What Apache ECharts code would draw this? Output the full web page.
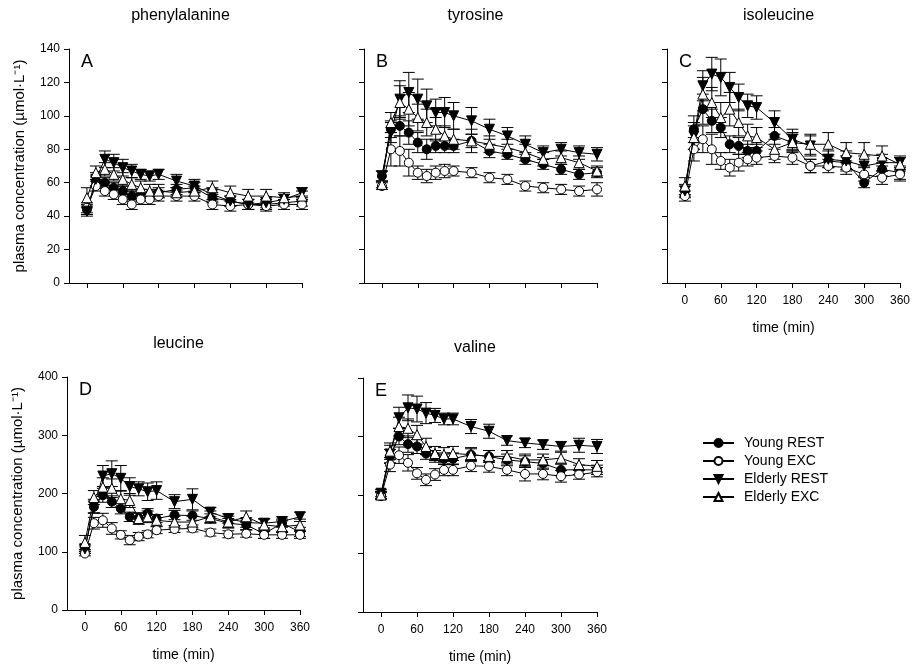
<!DOCTYPE html>
<html>
<head>
<meta charset="utf-8">
<script src="https://cdn.jsdelivr.net/npm/echarts@6/dist/echarts.min.js"></script>
<style>html,body{margin:0;padding:0;background:#fff}#c{width:913px;height:667px}</style>
</head>
<body>
<div id="c"></div>
<script>
// ---- data ----
const time = [0,15,30,45,60,75,90,105,120,150,180,210,240,270,300,330,360];
const xTicks = [0,60,120,180,240,300,360];
const seriesNames = ['Young REST','Young EXC','Elderly REST','Elderly EXC'];
const panelTitles = ['phenylalanine','tyrosine','isoleucine','leucine','valine'];
const panelLetters = ['A','B','C','D','E'];

// phenylalanine
const pheYoungRest = [44,61,60,57,55,52,53,53,54,56,57,51,49,47,47,48,49];
const pheYoungRestSE = [3,3,3,3,3,3,3,3,3,3,3,3,3,3,3,2,3];
const pheYoungExc = [45,58,55,53,50,47,50,50,52,52,52,47,46,47,46,47,47];
const pheYoungExcSE = [3,3,3,3,3,3,3,3,3,3,3,3,3,3,3,3,3];
const pheElderlyRest = [43,62,74,72,69,67,65,64,65,61,58,53,49,47,48,50,54];
const pheElderlyRestSE = [3,4,5,5,5,4,3,3,3,4,4,4,3,3,3,3,3];
const pheElderlyExc = [51,66,68,65,62,59,57,55,55,54,55,57,54,52,52,51,52];
const pheElderlyExcSE = [6,4,4,4,4,4,4,4,4,3,3,4,4,4,4,3,3];

// tyrosine
const tyrYoungRest = [64,92,94,90,84,80,82,82,82,85,79,77,74,71,68,65,66];
const tyrYoungRestSE = [3,5,6,7,6,6,4,4,4,4,4,3,3,3,3,3,3];
const tyrYoungExc = [58,80,79,72,66,64,66,67,67,66,63,62,58,57,56,55,56];
const tyrYoungExcSE = [2,10,9,8,4,4,4,4,3,3,3,3,3,3,3,3,4];
const tyrElderlyRest = [64,90,110,114,110,106,102,102,100,97,92,88,83,78,80,78,77];
const tyrElderlyRestSE = [3,6,11,12,12,10,8,9,8,8,6,5,5,4,4,4,4];
const tyrElderlyExc = [59,96,108,104,99,96,92,88,86,85,83,81,78,74,75,72,67];
const tyrElderlyExcSE = [2,6,10,10,8,8,7,6,6,7,5,5,5,4,4,4,3];

// isoleucine
const ileYoungRest = [55,92,104,97,93,83,82,79,79,88,84,70,73,72,60,68,66];
const ileYoungRestSE = [3,8,9,7,6,5,5,4,4,5,5,4,4,4,3,4,4];
const ileYoungExc = [52,80,86,80,73,69,72,74,75,76,75,70,70,69,65,63,65];
const ileYoungExcSE = [3,7,8,9,5,5,5,4,4,4,4,4,4,4,4,4,4];
const ileElderlyRest = [55,88,118,125,123,117,111,106,105,96,86,82,74,73,70,72,72];
const ileElderlyRestSE = [4,8,9,10,11,9,8,7,7,7,6,6,5,6,6,5,4];
const ileElderlyExc = [58,87,113,108,99,104,96,88,87,80,84,83,83,78,77,76,71];
const ileElderlyExcSE = [5,7,10,9,9,10,8,7,6,6,6,6,7,6,7,6,4];

// leucine
const leuYoungRest = [105,177,197,186,174,160,158,166,157,163,162,157,149,146,131,149,134];
const leuYoungRestSE = [5,10,12,10,9,8,8,8,7,8,8,8,8,8,8,7,8];
const leuYoungExc = [97,149,154,140,129,120,126,130,137,139,140,133,130,131,129,129,129];
const leuYoungExcSE = [4,10,12,10,7,8,7,6,6,6,6,6,6,6,6,6,6];
const leuElderlyRest = [105,178,230,234,226,212,208,203,205,186,190,168,157,150,149,152,160];
const leuElderlyRestSE = [8,12,18,22,22,15,12,15,15,12,18,8,8,8,8,8,8];
const leuElderlyExc = [116,193,211,209,191,188,157,160,154,151,151,160,151,160,146,143,146];
const leuElderlyExcSE = [12,12,16,16,14,12,10,10,10,10,10,10,10,10,10,10,10];

// valine
const valYoungRest = [200,266,300,287,283,271,266,262,262,269,266,260,257,254,243,243,243];
const valYoungRestSE = [6,12,14,14,12,10,10,10,10,10,10,10,10,10,10,8,8];
const valYoungExc = [198,252,268,255,237,226,235,243,243,250,249,243,236,236,232,235,239];
const valYoungExcSE = [6,12,14,14,10,10,10,10,10,10,10,10,12,10,10,8,8];
const valElderlyRest = [203,270,332,349,347,340,336,330,330,317,309,293,289,286,283,285,283];
const valElderlyRestSE = [6,15,18,22,22,18,12,10,10,12,12,8,8,8,8,12,12];
const valElderlyExc = [200,275,317,314,303,283,271,269,271,269,266,266,260,260,263,252,249];
const valElderlyExcSE = [6,14,16,16,16,14,12,12,12,12,10,10,10,10,10,10,10];

// ---- layout ----
const FONT = 'Liberation Sans, Arial, sans-serif';
const panels = [
  {vals:[pheYoungRest,pheYoungExc,pheElderlyRest,pheElderlyExc], se:[pheYoungRestSE,pheYoungExcSE,pheElderlyRestSE,pheElderlyExcSE],
   grid:{left:69,top:49,width:233,height:234}, titleTop:8, ymax:140, yint:20, ylabels:true, xlabels:false},
  {vals:[tyrYoungRest,tyrYoungExc,tyrElderlyRest,tyrElderlyExc], se:[tyrYoungRestSE,tyrYoungExcSE,tyrElderlyRestSE,tyrElderlyExcSE],
   grid:{left:364,top:49,width:233,height:234}, titleTop:8, ymax:140, yint:20, ylabels:false, xlabels:false},
  {vals:[ileYoungRest,ileYoungExc,ileElderlyRest,ileElderlyExc], se:[ileYoungRestSE,ileYoungExcSE,ileElderlyRestSE,ileElderlyExcSE],
   grid:{left:667,top:49,width:233,height:234}, titleTop:8, ymax:140, yint:20, ylabels:false, xlabels:true},
  {vals:[leuYoungRest,leuYoungExc,leuElderlyRest,leuElderlyExc], se:[leuYoungRestSE,leuYoungExcSE,leuElderlyRestSE,leuElderlyExcSE],
   grid:{left:67,top:377,width:233,height:233}, titleTop:336, ymax:400, yint:100, ylabels:true, xlabels:true},
  {vals:[valYoungRest,valYoungExc,valElderlyRest,valElderlyExc], se:[valYoungRestSE,valYoungExcSE,valElderlyRestSE,valElderlyExcSE],
   grid:{left:363,top:378,width:234,height:234}, titleTop:340, ymax:400, yint:100, ylabels:false, xlabels:true}
];
const styles = [
  {symbol:'circle', size:9, fill:'#000', rot:0},
  {symbol:'circle', size:9, fill:'#fff', rot:0},
  {symbol:'triangle', size:10, fill:'#000', rot:180},
  {symbol:'triangle', size:10, fill:'#fff', rot:0}
];

const grids=[], xAxes=[], yAxes=[], series=[], titles=[];
panels.forEach((p, gi) => {
  grids.push(Object.assign({containLabel:false}, p.grid));
  xAxes.push({
    type:'value', gridIndex:gi, min:-30, max:360,
    axisLine:{show:true, onZero:false, lineStyle:{color:'#000', width:1}},
    axisTick:{show:true, length:5, customValues:xTicks, lineStyle:{color:'#000'}},
    axisLabel:{show:p.xlabels, customValues:xTicks, margin:12, color:'#000', fontSize:12, fontFamily:FONT},
    splitLine:{show:false},
    name:p.xlabels?'time (min)':'', nameLocation:'middle', nameGap:38,
    nameTextStyle:{color:'#000', fontSize:14, fontFamily:FONT}
  });
  yAxes.push({
    type:'value', gridIndex:gi, min:0, max:p.ymax, interval:p.yint,
    axisLine:{show:true, onZero:false, lineStyle:{color:'#000', width:1}},
    axisTick:{show:true, length:5, lineStyle:{color:'#000'}},
    axisLabel:{show:p.ylabels, margin:9, color:'#000', fontSize:12, fontFamily:FONT},
    splitLine:{show:false},
    name:p.ylabels?'plasma concentration (\u00b5mol\u00b7L\u207b\u00b9)':'', nameLocation:'middle', nameGap:42,
    nameTextStyle:{color:'#000', fontSize:15, fontFamily:FONT}
  });
  const g = p.grid;
  titles.push({text:panelTitles[gi], left:g.left+g.width/2-5, top:p.titleTop, textAlign:'center', padding:0,
    textStyle:{fontSize:16, fontWeight:'normal', color:'#000', fontFamily:FONT}});
  titles.push({text:panelLetters[gi], left:g.left+12, top:g.top+4, padding:0,
    textStyle:{fontSize:18, fontWeight:'normal', color:'#000', fontFamily:FONT}});
  p.vals.forEach((vals, si) => {
    const se = p.se[si];
    series.push({
      type:'custom', xAxisIndex:gi, yAxisIndex:gi, silent:true, z:2,
      data: time.map((t,i)=>[t, vals[i]-se[i], vals[i]+se[i]]),
      encode:{x:0, y:[1,2]},
      renderItem:(params, api)=>{
        const x = api.value(0);
        const lo = api.coord([x, api.value(1)]);
        const hi = api.coord([x, api.value(2)]);
        const w = 6;
        const st = {stroke:'#000', lineWidth:1};
        return {type:'group', children:[
          {type:'line', shape:{x1:lo[0],y1:lo[1],x2:hi[0],y2:hi[1]}, style:st},
          {type:'line', shape:{x1:hi[0]-w,y1:hi[1],x2:hi[0]+w,y2:hi[1]}, style:st},
          {type:'line', shape:{x1:lo[0]-w,y1:lo[1],x2:lo[0]+w,y2:lo[1]}, style:st}
        ]};
      }
    });
  });
  p.vals.forEach((vals, si) => {
    const s = styles[si];
    series.push({
      name:seriesNames[si], type:'line', xAxisIndex:gi, yAxisIndex:gi, z:3+si,
      data: time.map((t,i)=>[t, vals[i]]),
      symbol:s.symbol, symbolSize:s.size, symbolRotate:s.rot, showAllSymbol:true,
      itemStyle:{color:s.fill, borderColor:'#000', borderWidth:1, opacity:1},
      lineStyle:{color:'#000', width:1}
    });
  });
});

const chart = echarts.init(document.getElementById('c'), null, {renderer:'canvas'});
chart.setOption({
  animation:false,
  backgroundColor:'#fff',
  textStyle:{fontFamily:FONT},
  title:titles,
  grid:grids, xAxis:xAxes, yAxis:yAxes,
  legend:{
    data:seriesNames, orient:'vertical', left:702, top:436, padding:0, itemWidth:31, itemHeight:10, itemGap:4,
    textStyle:{fontSize:14, color:'#000', fontFamily:FONT, padding:[0,0,0,5]}, selectedMode:false
  },
  series:series
});
</script>
</body>
</html>
